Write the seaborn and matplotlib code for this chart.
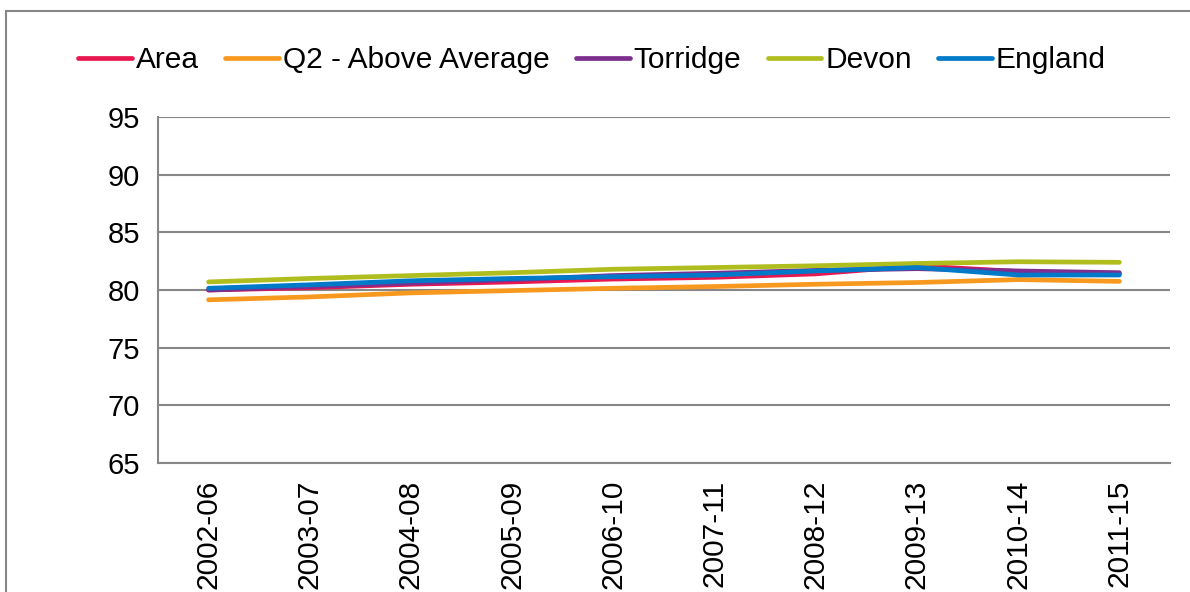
import numpy as np
import pandas as pd
import matplotlib
matplotlib.use("Agg")
import matplotlib.pyplot as plt
import seaborn as sns
from matplotlib.lines import Line2D

# data
periodes = ["2002-06", "2003-07", "2004-08", "2005-09", "2006-10",
            "2007-11", "2008-12", "2009-13", "2010-14", "2011-15"]
area = [80.0, 80.2, 80.5, 80.7, 80.95, 81.1, 81.4, 82.1, 81.6, 81.4]
q2_above = [79.15, 79.4, 79.75, 79.95, 80.15, 80.3, 80.5, 80.65, 80.9, 80.75]
torridge = [80.0, 80.3, 80.6, 80.9, 81.25, 81.45, 81.7, 81.85, 81.65, 81.5]
devon = [80.7, 81.0, 81.25, 81.5, 81.8, 81.95, 82.1, 82.3, 82.45, 82.4]
england = [80.15, 80.45, 80.8, 81.0, 81.15, 81.3, 81.65, 81.95, 81.3, 81.3]

series = {"Area": area, "Q2 - Above Average": q2_above, "Torridge": torridge,
          "Devon": devon, "England": england}
couleurs = ["#E8174F", "#F7991F", "#7D2E8F", "#B0BD1F", "#0079C9"]

df = pd.DataFrame([(nom, i, v) for nom, vals in series.items()
                   for i, v in enumerate(vals)],
                  columns=["serie", "x", "valeur"])

sns.set_style("white")
plt.rcParams["font.family"] = ["Liberation Sans", "DejaVu Sans"]
plt.rcParams["text.color"] = "black"
plt.rcParams["xtick.labelcolor"] = "black"
plt.rcParams["ytick.labelcolor"] = "black"
gris = "#878787"

fig = plt.figure(figsize=(11.9, 5.92), dpi=100)
ax = fig.add_axes([158 / 1190, 1 - 463 / 592, 1012 / 1190, 346 / 592])

sns.lineplot(data=df, x="x", y="valeur", hue="serie", palette=couleurs,
             linewidth=3.4, ax=ax, legend=False, solid_capstyle="round")

ax.set_xlim(-0.5, len(periodes) - 0.5)
ax.set_ylim(65, 95)
ax.set_yticks(np.arange(65, 96, 5))
ax.set_xticks(range(len(periodes)))
ax.set_xticklabels(periodes, rotation=90)
ax.set_xticks(np.arange(-0.5, len(periodes), 1), minor=True)
ax.tick_params(axis="x", which="major", length=0, pad=12, labelsize=21.5)
ax.tick_params(axis="x", which="minor", length=8, width=1.5, color=gris, direction="out")
ax.tick_params(axis="y", length=8, width=1.5, color=gris, labelsize=21, pad=5, direction="out")
ax.set_xlabel("")
ax.set_ylabel("")
ax.grid(axis="y", color=gris, linewidth=1.5)
ax.grid(axis="x", visible=False)
for cote in ["top", "right"]:
    ax.spines[cote].set_visible(False)
for cote in ["left", "bottom"]:
    ax.spines[cote].set_color(gris)
    ax.spines[cote].set_linewidth(1.5)

poignees = [Line2D([0], [0], color=c, linewidth=3.4, solid_capstyle="round")
            for c in couleurs]
fig.legend(poignees, list(series.keys()), loc="center", ncol=5,
           bbox_to_anchor=(592 / 1190, 1 - 60 / 592), frameon=False,
           fontsize=21.5, handlelength=1.8, handletextpad=0.13,
           columnspacing=0.88)

# cadre gris autour du graphique
fig.add_artist(Line2D([6 / 1190, 6 / 1190], [0, 1 - 11 / 592],
                      transform=fig.transFigure, color=gris, linewidth=1.5))
fig.add_artist(Line2D([6 / 1190, 1], [1 - 11 / 592, 1 - 11 / 592],
                      transform=fig.transFigure, color=gris, linewidth=1.5))

fig.savefig("out.png", dpi=100, facecolor="white")
